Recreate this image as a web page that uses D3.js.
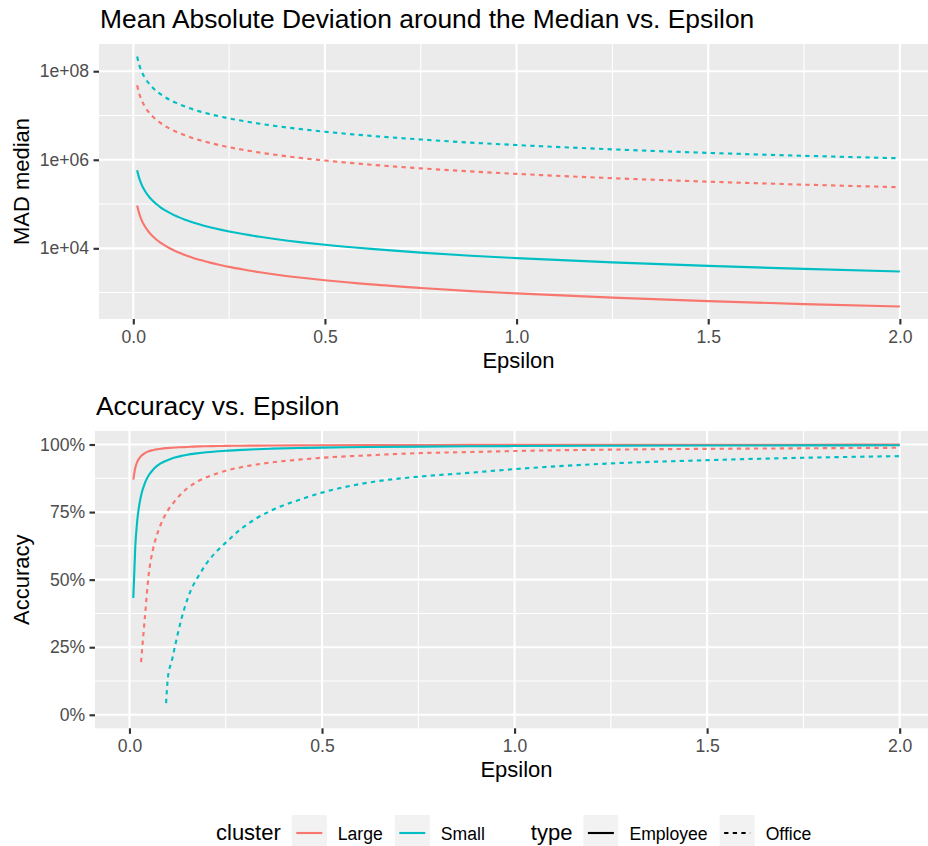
<!DOCTYPE html>
<html>
<head>
<meta charset="utf-8">
<script src="https://cdn.jsdelivr.net/npm/d3@7"></script>
<style>
  body { margin: 0; background: #ffffff; }
  svg text { font-family: "Liberation Sans", Arial, Helvetica, sans-serif; }
</style>
</head>
<body>
<div id="chart"></div>
<script>

// --- DATA ---

const epsilon = [0.01, 0.015, 0.02, 0.03, 0.04, 0.05, 0.06, 0.07, 0.08, 0.095, 0.1, 0.11, 0.12, 0.135, 0.15, 0.165, 0.18, 0.2, 0.23, 0.25, 0.29, 0.33, 0.37, 0.44, 0.5, 0.62, 0.75, 0.88, 1.0, 1.25, 1.5, 1.75, 2.0];

// Mean absolute deviation around the median
const madLargeEmployee = [93000, 63000, 47000, 31500, 23700, 19000, 15800, 13600, 11900, 10000, 9500, 8650, 7900, 7050, 6350, 5750, 5300, 4750, 4150, 3800, 3280, 2880, 2570, 2160, 1900, 1530, 1270, 1080, 960, 770, 640, 550, 485];
const madSmallEmployee = [580000, 395000, 298000, 199000, 150000, 120000, 100000, 85500, 75000, 63200, 60000, 54500, 50000, 44400, 40000, 36300, 33300, 30000, 26100, 24000, 20700, 18200, 16200, 13600, 12000, 9700, 8000, 6800, 6000, 4800, 4000, 3430, 3000];
const madLargeOffice = [48000000, 32000000, 24000000, 16000000, 12000000, 9600000, 8000000, 6860000, 6000000, 5050000, 4800000, 4360000, 4000000, 3560000, 3200000, 2910000, 2670000, 2400000, 2090000, 1920000, 1660000, 1450000, 1300000, 1090000, 960000, 774000, 640000, 545000, 480000, 384000, 320000, 274000, 240000];
const madSmallOffice = [215000000, 143000000, 107000000, 71700000, 53700000, 43000000, 35800000, 30700000, 26900000, 22600000, 21500000, 19500000, 17900000, 15900000, 14300000, 13000000, 11900000, 10700000, 9350000, 8600000, 7410000, 6520000, 5810000, 4890000, 4300000, 3470000, 2870000, 2440000, 2150000, 1720000, 1430000, 1230000, 1080000];

// Accuracy (null = below the 0..1 limits, dropped)
const accLargeEmployee = [0.870, 0.913, 0.935, 0.957, 0.968, 0.975, 0.979, 0.982, 0.984, 0.9865, 0.987, 0.988, 0.989, 0.990, 0.991, 0.992, 0.993, 0.9935, 0.9943, 0.9948, 0.9955, 0.996, 0.9965, 0.997, 0.9974, 0.9979, 0.9983, 0.9985, 0.9987, 0.999, 0.9991, 0.9993, 0.9994];
const accSmallEmployee = [0.432, 0.62, 0.715, 0.81, 0.857, 0.886, 0.905, 0.919, 0.929, 0.940, 0.943, 0.948, 0.9525, 0.958, 0.962, 0.9655, 0.968, 0.9715, 0.975, 0.977, 0.980, 0.9827, 0.9846, 0.987, 0.9886, 0.9908, 0.9924, 0.9935, 0.9943, 0.9954, 0.9962, 0.9967, 0.9972];
const accLargeOffice = [null, null, null, 0.195, 0.36, 0.52, 0.605, 0.66, 0.70, 0.745, 0.757, 0.776, 0.795, 0.818, 0.838, 0.853, 0.866, 0.879, 0.894, 0.903, 0.916, 0.926, 0.934, 0.944, 0.951, 0.96, 0.968, 0.972, 0.976, 0.981, 0.984, 0.986, 0.988];
const accSmallOffice = [null, null, null, null, null, null, null, null, null, 0.043, 0.14, 0.20, 0.265, 0.355, 0.426, 0.478, 0.515, 0.56, 0.61, 0.637, 0.688, 0.727, 0.757, 0.795, 0.822, 0.859, 0.881, 0.895, 0.909, 0.930, 0.942, 0.951, 0.957];

const clusters = ["Large", "Small"];
const types = ["Employee", "Office"];

const epsTicks = [0, 0.5, 1, 1.5, 2];
const epsMinorTicks = [0.25, 0.75, 1.25, 1.75];
const madTicks = [1e4, 1e6, 1e8];
const madMinorTicks = [1e3, 1e5, 1e7];
const accTicks = [0, 0.25, 0.5, 0.75, 1];
const accMinorTicks = [0.125, 0.375, 0.625, 0.875];
const accLimits = [0, 1];


// --- STYLE ---

const width = 928;
const height = 846;
const colorScale = d3.scaleOrdinal().domain(clusters).range(["#F8766D", "#00BFC4"]);
const dashScale = d3.scaleOrdinal().domain(types).range([null, "4.3,4.3"]);
const lineWidth = 2.13;

function toSeries(list) {
    return list.map(s => ({
        cluster: s.cluster,
        type: s.type,
        points: epsilon.map((e, i) => ({x: e, y: s.values[i]})).filter(p => p.y != null)
    }));
}

const madSeries = toSeries([
    {cluster: "Large", type: "Employee", values: madLargeEmployee},
    {cluster: "Small", type: "Employee", values: madSmallEmployee},
    {cluster: "Large", type: "Office", values: madLargeOffice},
    {cluster: "Small", type: "Office", values: madSmallOffice}
]);
const accSeries = toSeries([
    {cluster: "Large", type: "Employee", values: accLargeEmployee},
    {cluster: "Small", type: "Employee", values: accSmallEmployee},
    {cluster: "Large", type: "Office", values: accLargeOffice},
    {cluster: "Small", type: "Office", values: accSmallOffice}
]);

const svg = d3.select("#chart").append("svg")
    .attr("width", width)
    .attr("height", height)
    .style("display", "block");

svg.append("rect").attr("width", width).attr("height", height).attr("fill", "#ffffff");

// expand a range by 5% each side, like ggplot
function expand(lo, hi) {
    const d = (hi - lo) * 0.05;
    return [lo - d, hi + d];
}

/**
 * Draws one ggplot-like panel
 */
function drawPanel(cfg, idx) {
    const g = svg.append("g").attr("class", "panel" + idx);

    const allX = cfg.series.flatMap(s => s.points.map(p => p.x));
    const x = d3.scaleLinear()
        .domain(expand(d3.min(allX), d3.max(allX)))
        .range([cfg.left, cfg.right]);

    let y;
    if (cfg.log) {
        const allY = cfg.series.flatMap(s => s.points.map(p => Math.log10(p.y)));
        const dom = expand(d3.min(allY), d3.max(allY));
        y = d3.scaleLog().domain([Math.pow(10, dom[0]), Math.pow(10, dom[1])]).range([cfg.bottom, cfg.top]);
    } else {
        y = d3.scaleLinear().domain(expand(cfg.limits[0], cfg.limits[1])).range([cfg.bottom, cfg.top]);
    }

    // Panel background
    g.append("rect")
        .attr("x", cfg.left).attr("y", cfg.top)
        .attr("width", cfg.right - cfg.left).attr("height", cfg.bottom - cfg.top)
        .attr("fill", "#EBEBEB");

    // Grid lines
    const grid = g.append("g").attr("stroke", "#ffffff").attr("fill", "none");
    grid.selectAll(".vminor").data(epsMinorTicks).join("line")
        .attr("x1", d => x(d)).attr("x2", d => x(d))
        .attr("y1", cfg.top).attr("y2", cfg.bottom)
        .attr("stroke-width", 1.07);
    grid.selectAll(".hminor").data(cfg.minorTicks).join("line")
        .attr("y1", d => y(d)).attr("y2", d => y(d))
        .attr("x1", cfg.left).attr("x2", cfg.right)
        .attr("stroke-width", 1.07);
    grid.selectAll(".vmajor").data(epsTicks).join("line")
        .attr("x1", d => x(d)).attr("x2", d => x(d))
        .attr("y1", cfg.top).attr("y2", cfg.bottom)
        .attr("stroke-width", lineWidth);
    grid.selectAll(".hmajor").data(cfg.ticks).join("line")
        .attr("y1", d => y(d)).attr("y2", d => y(d))
        .attr("x1", cfg.left).attr("x2", cfg.right)
        .attr("stroke-width", lineWidth);

    // Lines
    const line = d3.line()
        .x(p => x(p.x))
        .y(p => y(p.y))
        .curve(d3.curveMonotoneX);

    g.append("clipPath").attr("id", "clip" + idx)
        .append("rect")
        .attr("x", cfg.left).attr("y", cfg.top)
        .attr("width", cfg.right - cfg.left).attr("height", cfg.bottom - cfg.top);

    g.append("g").attr("clip-path", "url(#clip" + idx + ")")
        .selectAll("path").data(cfg.series).join("path")
        .attr("d", s => line(s.points))
        .attr("fill", "none")
        .attr("stroke", s => colorScale(s.cluster))
        .attr("stroke-width", lineWidth)
        .attr("stroke-dasharray", s => dashScale(s.type));

    // Axes
    const styleAxis = sel => {
        sel.select(".domain").remove();
        sel.selectAll(".tick line").attr("stroke", "#333333").attr("stroke-width", lineWidth);
        sel.selectAll(".tick text").attr("fill", "#4D4D4D").attr("font-size", 17.6)
            .attr("font-family", "'Liberation Sans', Arial, sans-serif");
    };

    g.append("g")
        .attr("transform", "translate(" + cfg.left + ",0)")
        .call(d3.axisLeft(y).tickValues(cfg.ticks).tickFormat(cfg.format).tickSize(5.5).tickPadding(4.4))
        .call(styleAxis);

    g.append("g")
        .attr("transform", "translate(0," + cfg.bottom + ")")
        .call(d3.axisBottom(x).tickValues(epsTicks).tickFormat(d3.format(".1f")).tickSize(5.5).tickPadding(cfg.xPad))
        .call(styleAxis);

    // Titles
    g.append("text")
        .attr("x", cfg.left + 1).attr("y", cfg.titleY)
        .attr("font-size", 26.4).attr("fill", "#000000")
        .text(cfg.title);

    g.append("text")
        .attr("x", (cfg.left + cfg.right) / 2).attr("y", cfg.xTitleY)
        .attr("text-anchor", "middle")
        .attr("font-size", 22).attr("fill", "#000000")
        .text("Epsilon");

    g.append("text")
        .attr("transform", "translate(29," + ((cfg.top + cfg.bottom) / 2) + ") rotate(-90)")
        .attr("text-anchor", "middle")
        .attr("font-size", 22).attr("fill", "#000000")
        .text(cfg.yTitle);
}

const madFormat = d => "1e+" + String(Math.round(Math.log10(d))).padStart(2, "0");

drawPanel({
    series: madSeries, log: true,
    left: 99, right: 938, top: 44, bottom: 319,
    ticks: madTicks, minorTicks: madMinorTicks, format: madFormat,
    title: "Mean Absolute Deviation around the Median vs. Epsilon", titleY: 28.3,
    yTitle: "MAD median", xTitleY: 368, xPad: 6.3
}, 0);

drawPanel({
    series: accSeries, log: false, limits: accLimits,
    left: 95, right: 938, top: 431, bottom: 728.3,
    ticks: accTicks, minorTicks: accMinorTicks, format: d3.format(".0%"),
    title: "Accuracy vs. Epsilon", titleY: 415,
    yTitle: "Accuracy", xTitleY: 776.7, xPad: 5.4
}, 1);


// --- LEGEND ---

const legend = svg.append("g").attr("class", "legend");
const keySize = 35;
const keyTop = 815;
const baseline = 840;
let cursor = 216;

const groups = [
    {title: "cluster", items: clusters.map(c => ({label: c, color: colorScale(c), dash: null}))},
    {title: "type", items: types.map(t => ({label: t, color: "#000000", dash: dashScale(t)}))}
];

groups.forEach((grp, gi) => {
    if (gi > 0) cursor += 46;
    const t = legend.append("text")
        .attr("x", cursor).attr("y", baseline)
        .attr("font-size", 22).attr("fill", "#000000")
        .text(grp.title);
    cursor += t.node().getComputedTextLength() + 11;

    grp.items.forEach((item, ii) => {
        if (ii > 0) cursor += 12;
        legend.append("rect")
            .attr("x", cursor).attr("y", keyTop)
            .attr("width", keySize).attr("height", keySize)
            .attr("fill", "#F2F2F2");
        legend.append("line")
            .attr("x1", cursor + 4.5).attr("x2", cursor + keySize - 4.5)
            .attr("y1", keyTop + keySize / 2 + 0.5).attr("y2", keyTop + keySize / 2 + 0.5)
            .attr("stroke", item.color)
            .attr("stroke-width", lineWidth)
            .attr("stroke-dasharray", item.dash);
        cursor += keySize + 11;
        const lt = legend.append("text")
            .attr("x", cursor).attr("y", baseline)
            .attr("font-size", 17.6).attr("fill", "#000000")
            .text(item.label);
        cursor += lt.node().getComputedTextLength();
    });
});

</script>
</body>
</html>
